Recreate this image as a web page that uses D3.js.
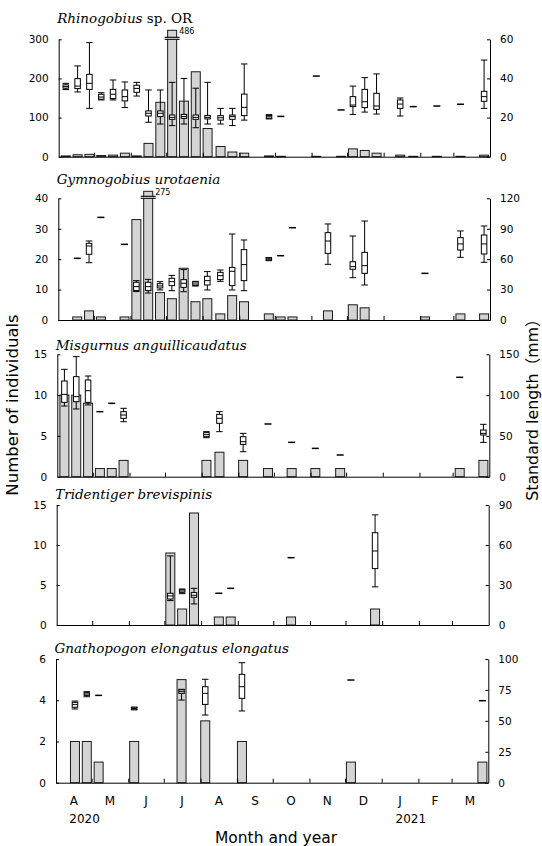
<!DOCTYPE html>
<html><head><meta charset="utf-8">
<script src="https://cdn.jsdelivr.net/npm/d3@7"></script>
<style>body{margin:0;background:#fff} svg{display:block}</style>
</head><body><svg id="c" width="542" height="846"></svg>
<script>
// ---------------- DATA ----------------
const axisRange = ["2020-04-01", "2021-04-01"];
const sampleDates = [
  "2020-04-07","2020-04-17","2020-04-27","2020-05-07","2020-05-17","2020-05-27",
  "2020-06-06","2020-06-16","2020-06-26","2020-07-06","2020-07-16","2020-07-26",
  "2020-08-05","2020-08-16","2020-08-26","2020-09-05","2020-09-15","2020-09-26",
  "2020-10-06","2020-10-16","2020-10-26","2020-11-05","2020-11-15","2020-11-26",
  "2020-12-06","2020-12-16","2020-12-26","2021-01-05","2021-01-15","2021-01-26",
  "2021-02-05","2021-02-15","2021-02-25","2021-03-07","2021-03-17","2021-03-27"];
const monthLabels = ["A","M","J","J","A","S","O","N","D","J","F","M"];
const yearLabels = [["2020", 0], ["2021", 9]];

const titleItalic = ["Rhinogobius", "Gymnogobius urotaenia", "Misgurnus anguillicaudatus",
                     "Tridentiger brevispinis", "Gnathopogon elongatus elongatus"];
const titleRoman = [" sp. OR", "", "", "", ""];

const countTicks = [[0,100,200,300],[0,10,20,30,40],[0,5,10,15],[0,5,10,15],[0,2,4,6]];
const slTicks = [[0,20,40,60],[0,30,60,90,120],[0,50,100,150],[0,30,60,90],[0,25,50,75,100]];

// Rhinogobius sp. OR
const rhinoCount = [2,5,6,3,4,9, 2,34,139,486,142,217, 72,26,12,9,0,2, 1,0,0,1,0,1, 20,16,9,0,4,1, 0,1,0,1,0,4];
const rhinoSL = [
  [34.3,35,35.8,36.7,37.5],[33.1,34.8,36.1,39.9,46.4],[24.7,34.4,37.5,42.1,58.3],[29,29.4,30.5,31.9,32.7],[29,29.7,31.9,34.4,39.2],[25.1,28.5,30.7,34.1,38.2],
  [31,32.9,34.9,36.5,38],[17.6,20.8,22.2,23.4,34.1],[16.7,20.5,22.2,23.4,34.1],[15.9,19.1,20.1,21.3,38],[16.7,19.6,20.5,21.6,40],[14.8,19.1,20.1,21.3,35],
  [16.7,19.3,20.1,21.1,38],[16.7,18.7,19.9,21,24.7],[15.9,19.1,20.5,21.3,24.7],[18.7,21,25.2,32,47.4],null,[19.3,19.6,20.4,21.1,21.5],
  [20.6],null,null,[41.2],null,[23.9],
  [21.6,25.6,26.4,30.7,36.1],[22.8,25.1,28.1,34.4,40.4],[21.8,24.2,25.9,32.4,42.3],null,[20.8,24.7,26.9,29,30],[25.6],
  null,[25.9],null,[26.8],null,[24.7,28.3,30.7,33.4,49.4]];

// Gymnogobius urotaenia
const gymnoCount = [0,1,3,1,0,1, 33,275,9,7,17,6, 7,2,8,6,0,2, 1,1,0,0,3,0, 5,4,0,0,0,0, 1,0,0,2,0,2];
const gymnoSL = [
  null,[60.8],[56.5,64.8,73,75.6,77.9],[101.2],null,[74.6],
  [28,29,32.9,37.2,38.8],[26.6,29,32.9,37.2,40.1],[29.6,31.6,33.6,35.8,37.8],[28.9,33.9,37.8,41.1,44],[27.9,32.2,36.2,39.8,49.7],[33.5,34,35.5,37.5,38.1],
  [29.6,34.5,38.8,43.1,47.7],[38.1,39.8,43.7,47,49.3],[29.6,33.9,48,51.9,84.8],[28.9,38.8,54.6,69.4,78.9],null,[58.5,59,60,61,61.5],
  [63.4],[91],null,null,[54.9,65.7,77.9,86.1,94.7],null,
  [41.7,50,52.6,57.5,82.8],[34.5,46,53.6,66.7,97.6],null,null,null,null,
  [46],null,null,[61.8,69,75,81.2,87.8],null,[56.9,65.1,75,83.8,92.7]];

// Misgurnus anguillicaudatus
const misgCount = [10,10,9,1,1,2, 0,0,0,0,0,0, 2,3,0,2,0,1, 0,1,0,1,0,1, 0,0,0,0,0,0, 0,0,0,1,0,2];
const misgSL = [
  [86.6,91.1,100.9,117.3,131.6],[83,91.9,98.1,122.6,147.1],[87.9,91.1,105.4,118.5,123.4],[79.7],[89.9],[67.4,71.5,75.6,79.7,83.8],
  null,null,null,null,null,null,
  [47.8,49,51.5,54,55.2],[55.2,65.4,71.5,76.4,79.7],null,[30.6,39.6,42.9,49,53.1],null,[64.6],
  null,[42.1],null,[34.7],null,[26.6],
  null,null,null,null,null,null,
  null,null,null,[121.8],null,[42.1,51.1,53.1,57.2,64.2]];

// Tridentiger brevispinis
const tridCount = [0,0,0,0,0,0, 0,0,0,9,2,14, 0,1,1,0,0,0, 0,1,0,0,0,0, 0,0,2,0,0,0, 0,0,0,0,0,0];
const tridSL = [
  null,null,null,null,null,null,
  null,null,null,[18.3,19.5,21.8,23.8,51.8],[23.5,24.5,25.5,26.5,27],[15.8,20.8,22.3,24.3,27.5],
  null,[23.8],[27.5],null,null,null,
  null,[50.5],null,null,null,null,
  null,null,[28.6,42.3,55.5,69.2,82.6],null,null,null,
  null,null,null,null,null,null];

// Gnathopogon elongatus elongatus
const gnaCount = [0,2,2,1,0,0, 2,0,0,0,5,0, 3,0,0,2,0,0, 0,0,0,0,0,0, 1,0,0,0,0,0, 0,0,0,0,0,1];
const gnaSL = [
  null,[59.6,61,63.3,65,66],[69.5,70.6,71.7,72.8,73.6],[70.6],null,null,
  [59,59,60,61,61],null,null,null,[66.8,72.2,73.6,75,75.5],null,
  [54.7,63.3,72.2,77.6,83.6],null,null,[58,68.2,77.6,87.6,97],null,null,
  null,null,null,null,null,null,
  [83],null,null,null,null,null,
  null,null,null,null,null,[66.3]];

// ---------------- LAYOUT ----------------
const layout = [
  {top:39.3, bottom:156.7, left:58.7, right:490,   titleY:22.5,  over:9},
  {top:198.3,bottom:320,   left:58.3, right:490,   titleY:184.3, over:7},
  {top:354.3,bottom:476.7, left:57.3, right:489.3, titleY:350,   over:7},
  {top:505,  bottom:625,   left:56.7, right:488.7, titleY:498.5, over:7},
  {top:659,  bottom:782.7, left:56,   right:488.3, titleY:652.5, over:7}
];
const speciesCounts = [rhinoCount, gymnoCount, misgCount, tridCount, gnaCount];
const speciesSL = [rhinoSL, gymnoSL, misgSL, tridSL, gnaSL];

const svg = d3.select("#c");
const parse = d3.utcParse("%Y-%m-%d");
const dates = sampleDates.map(parse);
const t0 = parse(axisRange[0]), t1 = parse(axisRange[1]);
const monthStarts = d3.utcMonths(t0, t1);
const innerTicks = monthStarts.slice(1);

const SANS = "'DejaVu Sans', 'Noto Sans CJK JP', sans-serif";
const BW = 9, BOXW = 5.5, CAPW = 6.5, DASHW = 7;
const fmt = d3.format("d");

layout.forEach((L, i) => {
  const g = svg.append("g");
  const x = d3.scaleUtc().domain([t0, t1]).range([L.left, L.right]);
  const yl = d3.scaleLinear().domain([0, d3.max(countTicks[i])]).range([L.bottom, L.top]);
  const yr = d3.scaleLinear().domain([0, d3.max(slTicks[i])]).range([L.bottom, L.top]);
  const ymax = yl.domain()[1];

  // bars
  const bars = dates.map((d, j) => ({d, v: speciesCounts[i][j]})).filter(e => e.v > 0);
  bars.forEach(e => {
    const cx = x(e.d);
    const broken = e.v > ymax;
    const top = broken ? yl(ymax) - L.over : yl(e.v);
    g.append("rect").attr("x", cx - BW/2).attr("y", top).attr("width", BW)
      .attr("height", yl(0) - top).attr("fill", "#d4d4d4").attr("stroke", "#1a1a1a").attr("stroke-width", 1);
    if (broken) {
      const yb = yl(ymax);
      g.append("rect").attr("x", cx - BW/2 - 0.5).attr("y", yb - 2).attr("width", BW + 1).attr("height", 2).attr("fill", "#fff");
      [yb - 2, yb].forEach(yy => g.append("line").attr("x1", cx - BW/2 - 3).attr("x2", cx + BW/2 + 3)
        .attr("y1", yy).attr("y2", yy).attr("stroke", "#000").attr("stroke-width", 1.1));
      g.append("text").attr("x", cx + BW/2 + 2.5).attr("y", top + 4)
        .attr("font-family", SANS).attr("font-size", 8).text(e.v);
    }
  });

  // box plots / single values
  dates.forEach((d, j) => {
    const s = speciesSL[i][j];
    if (!s) return;
    const cx = x(d);
    if (s.length === 1) {
      g.append("line").attr("x1", cx - DASHW/2).attr("x2", cx + DASHW/2)
        .attr("y1", yr(s[0])).attr("y2", yr(s[0])).attr("stroke", "#000").attr("stroke-width", 1.5);
      return;
    }
    const [mn, q1, md, q3, mx] = s;
    g.append("line").attr("x1", cx).attr("x2", cx).attr("y1", yr(mn)).attr("y2", yr(mx))
      .attr("stroke", "#000").attr("stroke-width", 1);
    [mn, mx].forEach(v => g.append("line").attr("x1", cx - CAPW/2).attr("x2", cx + CAPW/2)
      .attr("y1", yr(v)).attr("y2", yr(v)).attr("stroke", "#000").attr("stroke-width", 1));
    g.append("rect").attr("x", cx - BOXW/2).attr("y", yr(q3)).attr("width", BOXW)
      .attr("height", Math.max(yr(q1) - yr(q3), 0.5)).attr("fill", "#fff").attr("stroke", "#000").attr("stroke-width", 1);
    g.append("line").attr("x1", cx - BOXW/2).attr("x2", cx + BOXW/2).attr("y1", yr(md)).attr("y2", yr(md))
      .attr("stroke", "#000").attr("stroke-width", 1);
  });

  // axes
  const ax = g.append("g").attr("transform", `translate(${L.left},0)`)
    .call(d3.axisLeft(yl).tickValues(countTicks[i]).tickFormat(fmt).tickSize(-3).tickSizeOuter(0).tickPadding(10));
  const axr = g.append("g").attr("transform", `translate(${L.right},0)`)
    .call(d3.axisRight(yr).tickValues(slTicks[i]).tickFormat(fmt).tickSize(-3).tickSizeOuter(0).tickPadding(10));
  const axb = g.append("g").attr("transform", `translate(0,${L.bottom})`)
    .call(d3.axisBottom(x).tickValues(innerTicks).tickSize(-4).tickSizeOuter(0).tickFormat(""));
  [ax, axr, axb].forEach(a => {
    a.selectAll("text").attr("font-family", SANS).attr("font-size", 10.5).attr("fill", "#000");
    a.selectAll("path,line").attr("stroke", "#000");
  });

  // title
  const t = g.append("text").attr("x", L.left - 1.5).attr("y", L.titleY)
    .attr("font-family", "'DejaVu Serif', 'Liberation Serif', serif").attr("font-size", 13.5);
  t.append("tspan").attr("font-style", "italic").text(titleItalic[i]);
  if (titleRoman[i]) t.append("tspan").attr("font-style", "normal").text(titleRoman[i]);

  // month labels under last panel
  if (i === layout.length - 1) {
    monthStarts.forEach((m, k) => {
      const next = k + 1 < monthStarts.length ? monthStarts[k + 1] : t1;
      const cx = (x(m) + x(next)) / 2;
      svg.append("text").attr("x", cx).attr("y", 805).attr("text-anchor", "middle")
        .attr("font-family", SANS).attr("font-size", 12).text(monthLabels[k]);
    });
    yearLabels.forEach(([lab, k]) => {
      const next = monthStarts[k + 1];
      const cx = (x(monthStarts[k]) + x(next)) / 2;
      svg.append("text").attr("x", cx - 4.5).attr("y", 823)
        .attr("font-family", SANS).attr("font-size", 12).text(lab);
    });
  }
});

// axis titles
svg.append("text").attr("transform", "translate(276,843)").attr("text-anchor", "middle")
  .attr("font-family", SANS).attr("font-size", 15.5).text("Month and year");
svg.append("text").attr("transform", "translate(18,405) rotate(-90)").attr("text-anchor", "middle")
  .attr("font-family", SANS).attr("font-size", 16.5).text("Number of individuals");
svg.append("text").attr("transform", "translate(538,406) rotate(-90)").attr("text-anchor", "middle")
  .attr("font-family", SANS).attr("font-size", 15.8).text("Standard length（mm）");
</script>
</body></html>
